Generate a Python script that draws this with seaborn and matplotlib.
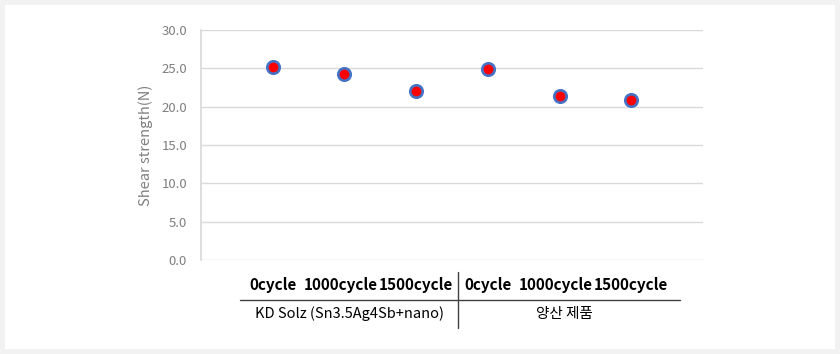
import numpy as np
import pandas as pd
import matplotlib
matplotlib.use("Agg")
import matplotlib.pyplot as plt
import matplotlib.transforms as mtransforms
from matplotlib.lines import Line2D
from matplotlib.patches import Rectangle
import seaborn as sns

# data
cycles = ["0cycle", "1000cycle", "1500cycle", "0cycle", "1000cycle", "1500cycle"]
groups = ["KD Solz (Sn3.5Ag4Sb+nano)"] * 3 + ["양산 제품"] * 3
shear = [25.2, 24.3, 22.0, 24.9, 21.4, 20.9]
y_ticks = [0, 5, 10, 15, 20, 25, 30]

df = pd.DataFrame({
    "key": [f"{g}|{c}" for g, c in zip(groups, cycles)],
    "Cycle": cycles,
    "Group": groups,
    "Shear": shear,
})

sns.set_theme(style="white")
plt.rcParams["font.family"] = ["Noto Sans CJK KR", "DejaVu Sans"]

W, H = 840, 354
fig = plt.figure(figsize=(W / 100, H / 100), dpi=100)
fig.patch.set_facecolor("#f2f2f2")
fig.add_artist(Rectangle((5 / W, 5 / H), 830 / W, 344 / H, transform=fig.transFigure,
                         facecolor="white", edgecolor="none", zorder=-10))

ax = fig.add_axes([201 / W, 1 - 260 / H, 502 / W, 230 / H])
ax.set_facecolor("none")

sns.scatterplot(data=df, x="key", y="Shear", ax=ax, s=80, color="#ff0000",
                edgecolor="#4472c4", linewidth=1.9, zorder=5, legend=False)

ax.set_xlim(-1, len(cycles))
ax.set_ylim(0, 30)
ax.set_yticks(y_ticks)
ax.set_yticklabels([f"{v:.1f}" for v in y_ticks], color="#7f7f7f", fontsize=9.5)
ax.yaxis.grid(True, color="#d9d9d9", linewidth=1)
ax.set_axisbelow(True)
for s in ["top", "right", "bottom"]:
    ax.spines[s].set_visible(False)
ax.spines["left"].set_color("#d9d9d9")
ax.tick_params(axis="y", length=0, pad=10)

ax.set_xticks(range(len(cycles)))
ax.set_xticklabels(cycles, fontsize=11, fontweight="bold", color="black")
ax.tick_params(axis="x", length=0, pad=12)
# the table labels for "1000cycle" sit a little left of the markers
for lbl in ax.get_xticklabels():
    if lbl.get_text() == "1000cycle":
        lbl.set_transform(lbl.get_transform() +
                          mtransforms.ScaledTranslation(-4 / 100, 0, fig.dpi_scale_trans))
ax.set_xlabel("")
ax.set_ylabel("Shear strength(N)", color="#7f7f7f", fontsize=10.5, labelpad=6)

# group table below the axis
trans = mtransforms.blended_transform_factory(ax.transData, fig.transFigure)
ax.add_artist(Line2D([-0.46, 5.68], [1 - 300 / H] * 2, transform=trans,
                     color="#404040", linewidth=1, clip_on=False))
ax.add_artist(Line2D([2.58, 2.58], [1 - 272 / H, 1 - 328 / H], transform=trans,
                     color="#404040", linewidth=1, clip_on=False))
for g in dict.fromkeys(groups):
    pos = np.mean([i for i, gg in enumerate(groups) if gg == g])
    ax.text(pos + 0.07, 1 - 314 / H, g, transform=trans, ha="center", va="center",
            fontsize=10.5, color="black")

fig.savefig("out.png", dpi=100, facecolor=fig.get_facecolor())
